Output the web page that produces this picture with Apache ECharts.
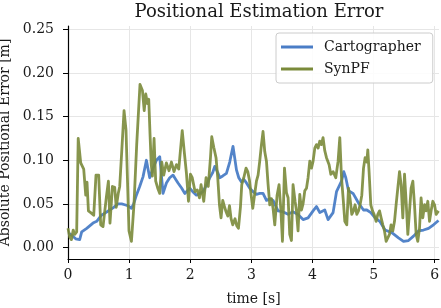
<!DOCTYPE html>
<html><head><meta charset="utf-8">
<script src="https://cdn.jsdelivr.net/npm/echarts@6/dist/echarts.min.js"></script>
<style>html,body{margin:0;padding:0;background:#fff}#c{width:441px;height:308px}</style>
</head><body><div id="c"></div>
<script>
var xTicks = [0, 1, 2, 3, 4, 5, 6];
var yTicks = [0.00, 0.05, 0.10, 0.15, 0.20, 0.25];

var cartoTime = [0.016,0.061,0.126,0.191,0.224,0.306,0.409,0.470,0.547,0.617,0.682,0.748,0.818,0.879,0.928,0.977,1.038,1.075,1.119,1.173,1.227,1.283,1.304,1.337,1.386,1.447,1.501,1.555,1.610,1.664,1.718,1.763,1.800,1.861,1.910,1.992,2.041,2.101,2.155,2.209,2.270,2.319,2.368,2.401,2.450,2.483,2.532,2.592,2.646,2.700,2.756,2.794,2.838,2.876,2.920,2.974,3.028,3.083,3.137,3.191,3.247,3.301,3.355,3.437,3.514,3.601,3.678,3.759,3.846,3.928,4.010,4.065,4.120,4.201,4.255,4.337,4.393,4.475,4.512,4.545,4.589,4.664,4.753,4.835,4.889,4.954,5.025,5.101,5.188,5.298,5.407,5.489,5.571,5.653,5.735,5.817,5.899,5.980,6.062];
var cartoErr = [0.016,0.014,0.010,0.009,0.018,0.022,0.028,0.030,0.037,0.040,0.043,0.046,0.050,0.050,0.049,0.048,0.045,0.050,0.060,0.070,0.081,0.100,0.092,0.080,0.090,0.100,0.104,0.062,0.074,0.080,0.083,0.078,0.074,0.068,0.062,0.068,0.064,0.060,0.062,0.064,0.072,0.080,0.086,0.093,0.086,0.080,0.082,0.085,0.098,0.116,0.089,0.080,0.075,0.078,0.074,0.068,0.064,0.061,0.062,0.062,0.054,0.056,0.054,0.042,0.041,0.038,0.041,0.038,0.032,0.034,0.042,0.047,0.040,0.043,0.032,0.040,0.064,0.076,0.087,0.080,0.065,0.062,0.051,0.043,0.043,0.040,0.034,0.030,0.020,0.017,0.011,0.007,0.008,0.013,0.019,0.020,0.022,0.026,0.031];

var synTime = [0.000,0.028,0.056,0.085,0.110,0.142,0.167,0.208,0.257,0.290,0.311,0.334,0.372,0.421,0.458,0.502,0.535,0.573,0.628,0.661,0.687,0.727,0.764,0.789,0.822,0.846,0.879,0.917,0.949,0.972,0.998,1.038,1.080,1.124,1.178,1.218,1.247,1.272,1.300,1.321,1.342,1.362,1.381,1.408,1.435,1.468,1.501,1.534,1.566,1.610,1.653,1.692,1.735,1.774,1.812,1.869,1.902,1.938,1.971,2.003,2.033,2.079,2.115,2.151,2.177,2.221,2.259,2.295,2.331,2.352,2.385,2.422,2.450,2.478,2.504,2.532,2.560,2.586,2.614,2.642,2.668,2.696,2.733,2.761,2.789,2.822,2.843,2.876,2.913,2.941,2.969,2.995,3.023,3.051,3.083,3.110,3.137,3.165,3.191,3.219,3.247,3.273,3.301,3.329,3.355,3.383,3.421,3.453,3.481,3.509,3.542,3.574,3.601,3.628,3.656,3.682,3.715,3.738,3.764,3.792,3.820,3.846,3.874,3.902,3.928,3.956,3.984,4.010,4.038,4.065,4.092,4.119,4.147,4.173,4.201,4.229,4.272,4.300,4.337,4.381,4.419,4.447,4.475,4.501,4.529,4.561,4.589,4.615,4.643,4.671,4.697,4.725,4.753,4.779,4.807,4.835,4.861,4.889,4.905,4.926,4.954,4.982,5.008,5.041,5.069,5.097,5.123,5.151,5.178,5.205,5.232,5.260,5.286,5.314,5.342,5.368,5.396,5.424,5.450,5.478,5.506,5.532,5.560,5.588,5.614,5.642,5.669,5.696,5.723,5.751,5.777,5.805,5.834,5.859,5.887,5.915,5.941,5.969,5.997,6.023,6.062];
var synErr = [0.022,0.012,0.009,0.020,0.015,0.018,0.125,0.097,0.090,0.060,0.075,0.042,0.040,0.037,0.083,0.083,0.026,0.024,0.058,0.076,0.028,0.070,0.069,0.046,0.062,0.070,0.110,0.157,0.135,0.080,0.019,0.007,0.050,0.118,0.187,0.180,0.157,0.176,0.165,0.170,0.130,0.095,0.082,0.125,0.076,0.068,0.062,0.098,0.083,0.097,0.088,0.098,0.087,0.095,0.090,0.134,0.110,0.085,0.053,0.084,0.080,0.064,0.066,0.057,0.072,0.053,0.080,0.070,0.103,0.127,0.115,0.103,0.080,0.049,0.034,0.054,0.047,0.041,0.036,0.048,0.033,0.026,0.033,0.025,0.022,0.047,0.072,0.080,0.091,0.087,0.077,0.061,0.045,0.045,0.076,0.083,0.099,0.118,0.133,0.110,0.099,0.073,0.049,0.056,0.045,0.026,0.060,0.072,0.045,0.007,0.091,0.063,0.057,0.015,0.008,0.072,0.053,0.042,0.019,0.061,0.043,0.050,0.065,0.068,0.080,0.099,0.091,0.099,0.114,0.118,0.114,0.122,0.118,0.126,0.111,0.103,0.095,0.084,0.087,0.080,0.099,0.126,0.080,0.057,0.030,0.026,0.068,0.056,0.038,0.042,0.049,0.038,0.042,0.049,0.060,0.091,0.103,0.098,0.112,0.087,0.049,0.042,0.038,0.030,0.038,0.042,0.034,0.026,0.019,0.007,0.011,0.015,0.026,0.019,0.030,0.049,0.068,0.087,0.072,0.034,0.084,0.053,0.015,0.042,0.068,0.076,0.049,0.015,0.007,0.022,0.057,0.034,0.049,0.042,0.053,0.030,0.042,0.053,0.049,0.038,0.042];

function pairs(t, v) { return t.map(function (x, i) { return [x, v[i]]; }); }

var FONT = 'DejaVu Serif';
var chart = echarts.init(document.getElementById('c'), null, { renderer: 'canvas' });
chart.setOption({
  animation: false,
  backgroundColor: '#ffffff',
  title: {
    text: 'Positional Estimation Error', left: 254, top: -2, textAlign: 'center',
    textStyle: { fontFamily: FONT, fontSize: 18, fontWeight: 'normal', color: '#1a1a1a' }
  },
  legend: {
    orient: 'vertical', left: 276, top: 33,
    padding: [7, 12, 7, 5], itemGap: 8, itemWidth: 32, itemHeight: 3,
    icon: 'rect',
    backgroundColor: 'rgba(255,255,255,0.85)', borderColor: '#cccccc', borderWidth: 1, borderRadius: 3,
    textStyle: { fontFamily: FONT, fontSize: 14, color: '#1a1a1a', padding: [0, 0, 0, 6] },
    data: ['Cartographer', 'SynPF']
  },
  grid: { left: 68, right: 2, top: 26, bottom: 49, containLabel: false, outerBoundsMode: 'none' },
  xAxis: {
    type: 'value', min: 0, max: 6.07,
    name: 'time [s]', nameLocation: 'middle', nameGap: 33,
    nameTextStyle: { fontFamily: FONT, fontSize: 14, color: '#1a1a1a' },
    axisLine: { show: true, onZero: false, lineStyle: { color: '#000', width: 1.2 } },
    axisTick: { show: true, length: 4, customValues: xTicks, lineStyle: { color: '#000', width: 1 } },
    axisLabel: { customValues: xTicks, margin: 9, fontFamily: FONT, fontSize: 14, color: '#1a1a1a',
      formatter: function (v) { return String(Math.round(v)); } },
    splitLine: { show: true, lineStyle: { color: '#e6e6e6', width: 1 } }
  },
  yAxis: {
    type: 'value', min: -0.0132, max: 0.254,
    name: 'Absolute Positional Error [m]', nameLocation: 'middle', nameGap: 53,
    nameTextStyle: { fontFamily: FONT, fontSize: 14, color: '#1a1a1a' },
    axisLine: { show: true, onZero: false, lineStyle: { color: '#000', width: 1.2 } },
    axisTick: { show: true, length: 5, customValues: yTicks, lineStyle: { color: '#000', width: 1 } },
    axisLabel: { customValues: yTicks, margin: 14, fontFamily: FONT, fontSize: 14, color: '#1a1a1a',
      formatter: function (v) { return v.toFixed(2); } },
    splitLine: { show: true, lineStyle: { color: '#e6e6e6', width: 1 } }
  },
  series: [
    { name: 'Cartographer', type: 'line', data: pairs(cartoTime, cartoErr), showSymbol: false, symbol: 'none',
      itemStyle: { color: '#4a7dc6' },
      lineStyle: { color: '#4a7dc6', width: 2.8, opacity: 0.95, join: 'round' }, z: 2 },
    { name: 'SynPF', type: 'line', data: pairs(synTime, synErr), showSymbol: false, symbol: 'none',
      itemStyle: { color: '#7a8a3a' },
      lineStyle: { color: '#7a8a3a', width: 2.8, opacity: 0.9, join: 'round' }, z: 3 }
  ]
});
</script>
</body></html>
